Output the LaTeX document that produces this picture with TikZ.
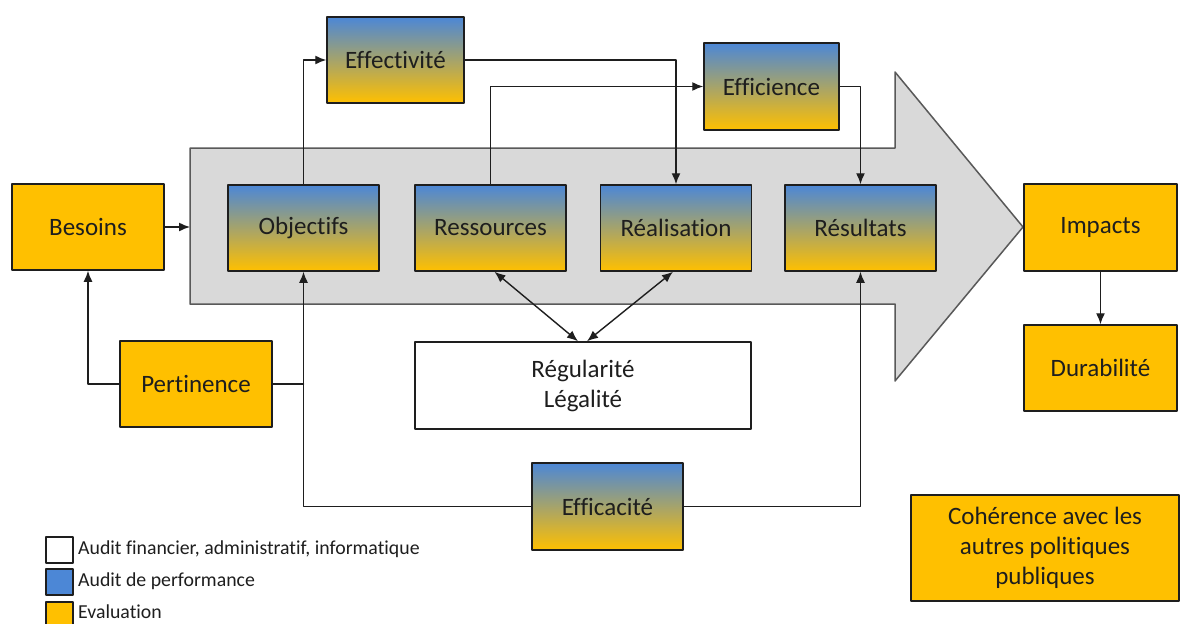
\documentclass[tikz,border=0pt]{standalone}
\usepackage{fontspec}
\setmainfont{Carlito}[Ligatures={NoCommon,NoRare}]
\usepackage{tikz}
\usetikzlibrary{arrows.meta}
\definecolor{bleuperf}{RGB}{76,135,214}
\definecolor{jauneeval}{RGB}{255,192,0}
\definecolor{grisfleche}{RGB}{217,217,217}
\definecolor{trait}{RGB}{30,30,30}

\begin{document}
\begin{tikzpicture}[line cap=round,line join=round,>={Latex[length=11pt,width=9pt]},x=1pt,y=1pt,
  cadre/.style={draw=trait,line width=1.5pt,align=center,text=trait,
    font=\fontsize{25}{30}\selectfont},
  perf/.style={cadre,top color=bleuperf,bottom color=jauneeval,
    minimum width=151,minimum height=86},
  eval/.style={cadre,fill=jauneeval},
  lien/.style={draw=trait,line width=1.4pt},
  legende/.style={draw=trait,line width=1.5pt,minimum width=27,minimum height=26,inner sep=0},
  texteleg/.style={anchor=west,inner sep=0,text=trait,font=\fontsize{19.8}{22}\selectfont}]
\useasboundingbox (0,0) rectangle (1184,-624);
\fill[white] (0,0) rectangle (1184,-624);
% grande fleche
\draw[fill=grisfleche,draw=black!65,line width=1.5pt]
  (190,-148)--(895,-148)--(895,-72)--(1023,-227)--(895,-381)--(895,-304)--(190,-304)--cycle;
\coordinate (entree) at (190,-227);

\node[eval,minimum width=152,minimum height=86] (besoins) at (88,-227) {Besoins};
\node[perf] (objectifs) at (303.5,-228) {Objectifs};
\node[perf] (ressources) at (490.5,-228) {Ressources};
\node[perf] (realisation) at (676,-228) {Réalisation};
\node[perf] (resultats) at (860.5,-228) {Résultats};
\node[perf,minimum width=137] (effectivite) at (395.5,-60) {Effectivité};
\node[perf,minimum width=135,minimum height=87] (efficience) at (771.5,-86.5) {Efficience};
\node[perf,minimum height=87] (efficacite) at (607.5,-506.5) {Efficacité};
\node[eval,minimum width=152,minimum height=86] (pertinence) at (196,-384) {Pertinence};
\node[eval,minimum width=153,minimum height=87] (impacts) at (1100.5,-227.5) {Impacts};
\node[eval,minimum width=153,minimum height=86] (durabilite) at (1100.5,-368) {Durabilité};
\node[cadre,fill=white,minimum width=336,minimum height=87] (regularite) at (583,-385.5)
  {Régularité\\Légalité};
\node[eval,minimum width=268,minimum height=106] (coherence) at (1045,-548)
  {Cohérence avec les\\autres politiques\\publiques};

\draw[lien,->] (besoins) -- (entree);
\draw[lien,->] (pertinence.west) -| (besoins.south);
\draw[lien] (pertinence.east) -- (pertinence.east -| objectifs.south);
\draw[lien,->] (efficacite.west) -| (objectifs.south);
\draw[lien,->] (efficacite.east) -| (resultats.south);
\draw[lien,->] (objectifs.north) |- (effectivite.west);
\draw[lien,->] (effectivite.east) -| (realisation.north);
\draw[lien,->] (ressources.north) |- (efficience.west);
\draw[lien,->] (efficience.east) -| (resultats.north);
\draw[lien,<->] ([xshift=4]ressources.south) -- ([xshift=-5]regularite.north);
\draw[lien,<->] ([xshift=-3]realisation.south) -- ([xshift=4]regularite.north);
\draw[lien,->] (impacts) -- (durabilite);

% legende
\node[legende,fill=white] (leg1) at (59.5,-550) {};
\node[legende,fill=bleuperf] (leg2) at (59.5,-582) {};
\node[legende,fill=jauneeval] (leg3) at (59.5,-615) {};
\node[texteleg] (txt1) at (78,-549) {Audit financier, administratif, informatique};
\node[texteleg] (txt2) at (78,-581) {Audit de performance};
\node[texteleg] (txt3) at (78,-612) {Evaluation};
\end{tikzpicture}
\end{document}
